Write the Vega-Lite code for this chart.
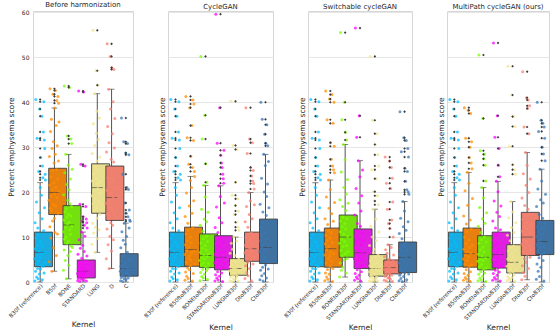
{
  "$schema": "https://vega.github.io/schema/vega-lite/v6.json",
  "padding": {"left": 6, "top": 0, "right": 0, "bottom": 0},
  "bounds": "flush",
  "spacing": 35,
  "config": {
    "font": "DejaVu Sans",
    "view": {"stroke": "#d6d6d6"},
    "axis": {"gridColor": "#e6e6e6", "labelColor": "#262626", "titleColor": "#262626", "titleFontWeight": "normal", "domain": false, "ticks": false},
    "title": {"fontSize": 7, "fontWeight": "normal", "color": "#262626", "offset": 1}
  },
  "datasets": {
    "b": [
      {"p": "bh", "k": "B30f (reference)", "c": "B30f", "lo": 0, "q1": 3.4, "med": 6.6, "q3": 11.1, "hi": 22.1, "v": [5.2, 0.2, 13.2, 7.4, 2.4, 40.6, 9.8, 4.1, 17.8, 1.1, 6.0, 32.0, 8.1, 3.0, 12.0, 0.7, 10.5, 4.7, 24.6, 6.9, 15.4, 1.8, 38.5, 5.5, 9.0, 21.0, 2.9, 27.7, 3.8, 8.6, 19.3, 6.3, 36.9, 14.1, 0.5, 25.8, 7.9, 23.2, 3.5, 33.4, 11.4, 40.1, 2.0, 31.6, 16.5, 29.7, 6.6, 24.0, 22.7, 4.4]},
      {"p": "bh", "k": "B50f", "c": "B50f", "lo": 2.4, "q1": 15.0, "med": 19.9, "q3": 25.3, "hi": 38.7, "v": [18.2, 4.5, 27.9, 21.6, 12.3, 43.0, 16.4, 33.5, 9.8, 23.4, 19.1, 36.2, 15.8, 2.4, 29.7, 20.5, 13.6, 24.8, 41.8, 17.3, 31.2, 7.6, 22.1, 26.5, 14.2, 38.7, 19.6, 11.0, 28.4, 42.6, 16.9, 21.0, 34.8, 5.9, 25.0, 40.4, 18.8, 30.3, 10.7, 22.9, 41.3, 15.3, 26.9, 39.8, 20.2, 35.6]},
      {"p": "bh", "k": "BONE", "c": "BONE", "lo": 0.7, "q1": 8.3, "med": 12.7, "q3": 17.0, "hi": 28.4, "v": [11.2, 2.6, 19.4, 13.8, 7.1, 43.6, 9.5, 24.3, 15.6, 4.8, 12.1, 28.4, 10.0, 16.3, 0.7, 21.7, 14.4, 8.6, 32.5, 12.9, 18.2, 5.9, 26.0, 9.1, 15.0, 3.7, 20.5, 13.3, 43.3, 11.6, 17.4, 6.8, 22.9, 10.6, 31.8, 14.7, 8.0, 16.8, 30.8, 12.4, 25.1, 7.7]},
      {"p": "bh", "k": "STANDARD", "c": "STANDARD", "lo": 0, "q1": 0.9, "med": 2.4, "q3": 4.9, "hi": 11.1, "v": [1.9, 0.3, 6.2, 2.8, 0.8, 42.5, 3.6, 9.4, 1.2, 4.4, 0.1, 17.3, 2.2, 7.5, 1.5, 26.2, 3.1, 0.6, 11.1, 5.3, 13.5, 2.5, 0.9, 8.2, 4.0, 14.5, 1.7, 42.3, 3.3, 0.4, 6.8, 12.6, 2.0, 10.2, 25.8, 1.0, 4.7, 16.8, 2.6, 14.0, 0.2, 13.2, 5.8, 12.0, 3.9]},
      {"p": "bh", "k": "LUNG", "c": "LUNG", "lo": 6.6, "q1": 15.3, "med": 21.0, "q3": 26.3, "hi": 41.9, "v": [19.2, 8.4, 28.6, 22.5, 13.1, 56.0, 17.4, 35.2, 24.1, 10.9, 20.3, 41.9, 15.9, 30.4, 6.6, 25.7, 18.6, 12.2, 47.0, 23.0, 33.1, 16.5, 21.8, 38.0, 14.2, 26.9, 9.7, 20.8, 43.8, 24.9, 31.7, 17.9, 11.6, 22.2, 36.5, 15.1, 27.8, 19.9]},
      {"p": "bh", "k": "D", "c": "D", "lo": 3.0, "q1": 13.7, "med": 18.8, "q3": 25.8, "hi": 42.9, "v": [17.5, 5.2, 28.9, 20.4, 11.8, 53.0, 15.1, 34.6, 23.2, 8.3, 18.1, 42.9, 14.0, 31.0, 3.0, 25.4, 16.6, 10.2, 50.2, 21.9, 38.5, 13.2, 19.6, 27.3, 6.9, 24.0, 47.7, 16.0, 33.0, 12.6, 22.7, 40.1, 18.9, 9.4, 26.7, 47.3, 14.8, 29.8, 20.9, 36.4]},
      {"p": "bh", "k": "C", "c": "C", "lo": 0, "q1": 1.3, "med": 3.0, "q3": 6.3, "hi": 13.1, "v": [2.4, 0.3, 7.6, 3.5, 1.0, 36.5, 4.8, 11.2, 1.6, 5.7, 0.1, 24.0, 2.9, 9.3, 1.3, 31.2, 3.9, 0.7, 13.1, 6.1, 17.6, 2.1, 8.4, 4.3, 28.7, 0.5, 15.3, 3.2, 10.1, 21.0, 1.9, 6.6, 30.8, 2.7, 14.5, 0.9, 20.6, 5.1, 28.3, 12.0, 16.0, 3.0, 13.8, 1.4, 13.5, 4.6]},

      {"p": "cg", "k": "B30f (reference)", "c": "B30f", "lo": 0, "q1": 3.4, "med": 6.6, "q3": 11.1, "hi": 22.1, "v": [5.2, 0.2, 13.2, 7.4, 2.4, 40.6, 9.8, 4.1, 17.8, 1.1, 6.0, 32.0, 8.1, 3.0, 12.0, 0.7, 10.5, 4.7, 24.6, 6.9, 15.4, 1.8, 38.5, 5.5, 9.0, 21.0, 2.9, 27.7, 3.8, 8.6, 19.3, 6.3, 36.9, 14.1, 0.5, 25.8, 7.9, 23.2, 3.5, 33.4, 11.4, 40.1, 2.0, 31.6, 16.5, 29.7, 6.6, 24.0, 22.7, 4.4]},
      {"p": "cg", "k": "B50ftoB30f", "c": "B50f", "lo": 0, "q1": 3.5, "med": 7.2, "q3": 12.2, "hi": 23.5, "v": [6.1, 0.4, 14.6, 8.3, 2.2, 41.3, 10.7, 4.4, 19.8, 1.3, 7.0, 32.1, 9.2, 3.1, 13.1, 0.8, 11.5, 5.3, 26.2, 7.8, 16.9, 2.7, 38.8, 5.9, 9.9, 22.6, 3.6, 28.0, 4.9, 8.8, 21.0, 6.6, 34.8, 15.3, 0.2, 25.5, 12.0, 40.5, 1.9, 31.5, 18.1, 39.6, 6.9, 24.6, 23.5, 4.0]},
      {"p": "cg", "k": "BONEtoB30f", "c": "BONE", "lo": 0.3, "q1": 3.2, "med": 5.9, "q3": 10.7, "hi": 21.5, "v": [4.8, 0.3, 12.6, 6.6, 2.1, 50.2, 8.7, 3.9, 16.2, 1.2, 5.4, 31.8, 7.5, 2.8, 11.3, 0.9, 9.6, 4.3, 21.5, 6.0, 14.0, 1.7, 37.1, 5.1, 8.1, 18.9, 3.4, 26.3, 7.1, 10.2, 2.5, 13.4, 22.2, 5.7, 0.6, 9.0, 3.0, 15.5, 6.3, 4.1]},
      {"p": "cg", "k": "STANDARDtoB30f", "c": "STANDARD", "lo": 0, "q1": 2.7, "med": 5.5, "q3": 10.3, "hi": 21.4, "v": [4.3, 0.2, 12.1, 6.2, 1.6, 59.6, 8.4, 3.5, 16.7, 0.9, 5.0, 30.9, 7.1, 2.3, 11.0, 0.5, 9.5, 3.9, 21.4, 5.8, 14.3, 1.3, 38.8, 4.7, 7.9, 19.0, 2.9, 28.2, 6.5, 9.9, 26.5, 2.0, 13.2, 25.5, 5.3, 0.1, 24.0, 8.8, 23.0, 3.2, 22.0, 29.3, 6.8, 17.6, 4.1]},
      {"p": "cg", "k": "LUNGtoB30f", "c": "LUNG", "lo": 0, "q1": 1.5, "med": 3.0, "q3": 5.2, "hi": 10.0, "v": [2.5, 0.3, 6.4, 3.4, 1.1, 40.2, 4.2, 8.6, 1.8, 3.8, 0.1, 19.3, 2.2, 7.3, 1.4, 30.4, 2.9, 0.7, 10.0, 4.8, 15.0, 2.0, 0.5, 5.9, 3.1, 17.0, 1.6, 22.2, 4.5, 0.9, 13.3, 2.7, 9.1, 29.5, 1.3, 18.5, 3.6, 12.2, 0.2, 15.8, 5.1, 11.5, 2.4]},
      {"p": "cg", "k": "DtoB30f", "c": "D", "lo": 0, "q1": 4.6, "med": 7.4, "q3": 11.1, "hi": 19.9, "v": [6.5, 0.8, 13.4, 8.2, 3.6, 38.8, 9.9, 5.3, 16.8, 2.1, 7.0, 28.6, 8.9, 4.4, 12.2, 1.4, 10.6, 5.9, 19.9, 7.7, 15.0, 3.0, 31.8, 6.2, 9.4, 18.1, 4.9, 25.5, 7.3, 11.0, 0.3, 23.6, 6.8, 14.1, 31.0, 8.5, 22.5, 4.0, 24.8, 10.2, 21.9, 5.6, 20.7, 17.2]},
      {"p": "cg", "k": "CtoB30f", "c": "C", "lo": 0, "q1": 4.1, "med": 7.7, "q3": 14.0, "hi": 28.4, "v": [6.8, 0.5, 17.3, 9.1, 2.6, 40.0, 12.0, 5.0, 23.1, 1.4, 7.7, 36.2, 10.4, 3.3, 15.6, 0.2, 13.2, 6.1, 28.4, 8.4, 20.0, 1.9, 32.9, 5.5, 11.1, 25.9, 3.8, 30.9, 7.3, 14.8, 0.9, 19.0, 35.0, 9.6, 4.5, 21.8, 30.3, 12.9, 2.9, 26.8, 8.0, 16.5]},

      {"p": "sw", "k": "B30f (reference)", "c": "B30f", "lo": 0, "q1": 3.4, "med": 6.6, "q3": 11.1, "hi": 22.1, "v": [5.2, 0.2, 13.2, 7.4, 2.4, 40.6, 9.8, 4.1, 17.8, 1.1, 6.0, 32.0, 8.1, 3.0, 12.0, 0.7, 10.5, 4.7, 24.6, 6.9, 15.4, 1.8, 38.5, 5.5, 9.0, 21.0, 2.9, 27.7, 3.8, 8.6, 19.3, 6.3, 36.9, 14.1, 0.5, 25.8, 7.9, 23.2, 3.5, 33.4, 11.4, 40.1, 2.0, 31.6, 16.5, 29.7, 6.6, 24.0, 22.7, 4.4]},
      {"p": "sw", "k": "B50ftoB30f", "c": "B50f", "lo": 0, "q1": 3.3, "med": 7.4, "q3": 12.0, "hi": 22.7, "v": [6.0, 0.3, 14.1, 8.5, 2.0, 42.5, 10.4, 4.2, 18.9, 1.1, 7.2, 36.1, 9.3, 2.8, 12.8, 0.6, 11.4, 5.1, 22.7, 7.9, 16.4, 1.7, 40.7, 5.8, 9.8, 20.6, 3.5, 31.0, 6.7, 11.0, 27.3, 4.6, 15.2, 41.7, 8.8, 0.1, 25.8, 3.0, 35.3, 13.5, 25.0, 6.3, 40.0, 30.2, 24.3, 17.7]},
      {"p": "sw", "k": "BONEtoB30f", "c": "BONE", "lo": 1.1, "q1": 5.5, "med": 10.0, "q3": 14.9, "hi": 30.6, "v": [8.6, 1.1, 18.3, 11.2, 4.2, 55.5, 13.6, 7.0, 24.5, 2.6, 9.5, 36.1, 12.3, 5.8, 16.8, 3.3, 14.4, 7.9, 30.6, 10.6, 21.0, 4.9, 40.0, 9.0, 13.0, 27.2, 6.3, 33.3, 11.8, 15.9, 2.0, 19.6, 31.6, 8.1, 14.1, 5.2, 22.8, 10.1, 6.8, 17.5]},
      {"p": "sw", "k": "STANDARDtoB30f", "c": "STANDARD", "lo": 0, "q1": 3.0, "med": 6.5, "q3": 11.8, "hi": 27.0, "v": [5.2, 0.4, 14.9, 7.6, 1.9, 56.5, 10.2, 4.0, 20.8, 1.1, 6.1, 32.2, 8.9, 2.7, 13.0, 0.7, 11.3, 4.8, 27.0, 7.0, 17.6, 1.5, 37.0, 5.7, 9.5, 23.4, 3.3, 12.4, 6.8, 0.2, 15.8, 8.3, 2.3, 19.2, 5.0, 10.8, 3.7, 24.9, 6.4, 9.1]},
      {"p": "sw", "k": "LUNGtoB30f", "c": "LUNG", "lo": 0, "q1": 1.3, "med": 3.0, "q3": 6.1, "hi": 16.2, "v": [2.3, 0.2, 8.1, 3.6, 0.9, 50.2, 4.7, 12.4, 1.5, 5.2, 0.1, 25.0, 2.7, 10.0, 1.2, 36.0, 3.3, 0.6, 16.2, 6.5, 20.1, 2.0, 0.4, 7.3, 3.9, 18.0, 1.7, 30.6, 5.6, 0.8, 14.0, 2.9, 23.0, 9.2, 1.1, 33.0, 4.3, 19.2, 0.3, 28.3, 6.0, 17.2, 2.5, 25.8, 11.1, 3.1]},
      {"p": "sw", "k": "DtoB30f", "c": "D", "lo": 0, "q1": 1.8, "med": 3.2, "q3": 4.9, "hi": 8.3, "v": [2.8, 0.4, 5.6, 3.5, 1.3, 27.8, 4.1, 7.2, 2.0, 3.9, 0.2, 22.0, 2.5, 6.4, 1.6, 16.2, 3.0, 0.9, 8.3, 4.6, 13.0, 2.2, 1.0, 5.1, 3.3, 26.9, 1.8, 11.9, 4.4, 0.6, 20.8, 2.7, 7.7, 25.5, 1.5, 13.8, 3.7, 23.1, 0.1, 17.8, 4.8, 10.0, 2.4, 6.0]},
      {"p": "sw", "k": "CtoB30f", "c": "C", "lo": 0, "q1": 2.1, "med": 5.5, "q3": 8.9, "hi": 17.9, "v": [4.3, 0.3, 10.8, 6.2, 1.5, 37.9, 7.4, 2.9, 14.2, 0.8, 5.1, 29.0, 6.9, 2.4, 9.6, 0.1, 8.2, 3.6, 17.9, 5.8, 12.3, 1.2, 32.1, 4.7, 7.9, 15.8, 2.0, 25.3, 6.0, 8.6, 22.4, 3.1, 11.5, 31.5, 5.4, 0.5, 20.5, 7.1, 24.6, 3.9, 29.7, 13.4, 20.0, 27.8, 1.8, 19.5]},

      {"p": "mp", "k": "B30f (reference)", "c": "B30f", "lo": 0, "q1": 3.4, "med": 6.6, "q3": 11.1, "hi": 22.1, "v": [5.2, 0.2, 13.2, 7.4, 2.4, 40.6, 9.8, 4.1, 17.8, 1.1, 6.0, 32.0, 8.1, 3.0, 12.0, 0.7, 10.5, 4.7, 24.6, 6.9, 15.4, 1.8, 38.5, 5.5, 9.0, 21.0, 2.9, 27.7, 3.8, 8.6, 19.3, 6.3, 36.9, 14.1, 0.5, 25.8, 7.9, 23.2, 3.5, 33.4, 11.4, 40.1, 2.0, 31.6, 16.5, 29.7, 6.6, 24.0, 22.7, 4.4]},
      {"p": "mp", "k": "B50ftoB30f", "c": "B50f", "lo": 0, "q1": 3.3, "med": 6.3, "q3": 12.0, "hi": 24.4, "v": [5.1, 0.4, 14.7, 7.3, 1.9, 38.8, 10.0, 4.0, 20.3, 1.0, 6.0, 32.0, 8.6, 2.7, 12.9, 0.6, 11.2, 4.8, 24.4, 6.8, 17.1, 1.5, 38.2, 5.6, 9.4, 22.0, 3.4, 27.7, 7.7, 0.2, 30.0, 13.8, 2.3, 37.5, 6.4, 26.5, 11.7, 31.2, 3.8, 25.2, 8.1, 18.6]},
      {"p": "mp", "k": "BONEtoB30f", "c": "BONE", "lo": 0, "q1": 2.7, "med": 5.5, "q3": 10.3, "hi": 21.0, "v": [4.6, 0.3, 12.4, 6.2, 1.7, 50.5, 8.6, 3.4, 16.6, 0.9, 5.0, 29.2, 7.2, 2.3, 11.0, 0.5, 9.4, 3.9, 21.0, 5.8, 14.1, 1.3, 36.4, 4.8, 7.8, 18.7, 2.8, 27.4, 6.7, 10.0, 28.4, 2.0, 13.1, 26.0, 5.3, 0.1, 22.5, 8.9, 3.1, 15.4]},
      {"p": "mp", "k": "STANDARDtoB30f", "c": "STANDARD", "lo": 0, "q1": 3.1, "med": 6.1, "q3": 11.1, "hi": 22.4, "v": [5.0, 0.4, 13.6, 7.0, 1.9, 53.2, 9.3, 3.8, 18.0, 1.0, 5.7, 32.2, 8.1, 2.6, 12.0, 0.6, 10.4, 4.4, 22.4, 6.5, 15.5, 1.5, 37.0, 5.3, 8.7, 20.1, 3.2, 26.0, 7.4, 10.9, 29.7, 2.2, 14.6, 23.4, 6.0, 0.2, 11.6, 4.0, 16.9, 3.5]},
      {"p": "mp", "k": "LUNGtoB30f", "c": "LUNG", "lo": 0, "q1": 2.0, "med": 4.4, "q3": 8.3, "hi": 17.9, "v": [3.5, 0.3, 10.4, 5.1, 1.2, 48.0, 6.9, 2.6, 14.3, 0.8, 4.0, 30.2, 6.0, 1.9, 9.2, 0.5, 7.7, 3.0, 17.9, 4.8, 12.1, 1.0, 41.6, 3.8, 6.4, 15.6, 2.2, 26.1, 5.5, 8.0, 36.8, 1.6, 11.0, 25.0, 4.5, 0.1, 34.6, 7.2, 24.0, 2.8, 13.2]},
      {"p": "mp", "k": "DtoB30f", "c": "D", "lo": 0.5, "q1": 5.9, "med": 10.0, "q3": 15.5, "hi": 28.8, "v": [8.4, 0.5, 18.7, 11.3, 3.6, 46.8, 13.9, 6.8, 24.1, 2.1, 9.3, 34.5, 12.4, 5.2, 17.0, 1.3, 14.8, 7.6, 28.8, 10.5, 21.5, 4.4, 41.0, 9.0, 13.2, 26.0, 6.2, 38.6, 11.9, 16.2, 40.5, 3.0, 19.9, 33.0, 8.0, 15.1, 39.2, 10.8, 5.5, 22.9, 12.8, 7.2]},
      {"p": "mp", "k": "CtoB30f", "c": "C", "lo": 0, "q1": 6.1, "med": 9.0, "q3": 13.7, "hi": 25.1, "v": [8.2, 0.6, 16.8, 10.1, 4.0, 40.0, 12.3, 6.9, 20.7, 2.4, 9.0, 33.5, 11.2, 5.4, 15.0, 1.2, 13.4, 7.6, 25.1, 9.5, 18.3, 3.3, 36.0, 8.6, 12.0, 22.5, 6.2, 30.0, 10.6, 14.2, 35.3, 4.8, 17.6, 28.5, 7.9, 0.2, 34.5, 11.7, 32.0, 6.5, 27.0, 13.1, 19.5]}
    ]
  },
  "hconcat": [
    {
      "width": 100, "height": 271,
      "title": "Before harmonization",
      "data": {"name": "b"},
      "transform": [{"filter": "datum.p == 'bh'"}],
      "encoding": {"x": {"field": "k", "type": "nominal", "sort": null, "scale": {"paddingInner": 0.2, "paddingOuter": 0.1}, "axis": {"title": "Kernel", "labelAngle": -45, "labelAlign": "right", "labelBaseline": "top", "labelFontSize": 5.5, "titleFontSize": 7.5, "grid": false, "labelPadding": 1, "titlePadding": 2}}},
      "layer": [
        {"mark": {"type": "rule", "color": "#3f3f3f", "strokeWidth": 0.9}, "encoding": {"y": {"field": "lo", "type": "quantitative", "title": "Percent emphysema score", "scale": {"domain": [0, 60.3], "nice": false}, "axis": {"title": "Percent emphysema score", "values": [0, 10, 20, 30, 40, 50, 60], "labelFontSize": 6, "titleFontSize": 7.5, "labelPadding": 4, "titlePadding": 6, "grid": true}}, "y2": {"field": "hi"}}},
        {"mark": {"type": "bar", "stroke": "#3f3f3f", "strokeWidth": 0.9}, "encoding": {"y": {"field": "q1", "type": "quantitative", "title": "Percent emphysema score"}, "y2": {"field": "q3"}, "fill": {"field": "c", "type": "nominal", "legend": null, "scale": {"domain": ["B30f", "B50f", "BONE", "STANDARD", "LUNG", "D", "C"], "range": ["#1AABE0", "#E8800F", "#74E010", "#E020E0", "#E8DF90", "#EE8070", "#3F72A0"]}}}},
        {"mark": {"type": "tick", "color": "#3f3f3f", "size": 11, "thickness": 0.9}, "encoding": {"y": {"field": "med", "type": "quantitative", "title": "Percent emphysema score"}}},
        {"mark": {"type": "tick", "color": "#3f3f3f", "size": 5.7, "thickness": 0.9}, "encoding": {"y": {"field": "lo", "type": "quantitative", "title": "Percent emphysema score"}}},
        {"mark": {"type": "tick", "color": "#3f3f3f", "size": 5.7, "thickness": 0.9}, "encoding": {"y": {"field": "hi", "type": "quantitative", "title": "Percent emphysema score"}}},
        {"transform": [{"flatten": ["v"]}, {"window": [{"op": "row_number", "as": "i"}], "groupby": ["k"]}], "mark": {"type": "circle", "size": 9, "opacity": 0.75}, "encoding": {"y": {"field": "v", "type": "quantitative", "title": "Percent emphysema score"}, "xOffset": {"field": "i", "type": "nominal", "scale": {"paddingOuter": 2}}, "color": {"field": "c", "type": "nominal", "legend": null, "scale": {"domain": ["B30f", "B50f", "BONE", "STANDARD", "LUNG", "D", "C"], "range": ["#00BFFF", "#FF8C00", "#7CFC00", "#FF00FF", "#F0E68C", "#FA8072", "#3A78B8"]}}}},
        {"transform": [{"flatten": ["v"]}, {"filter": "datum.v > datum.hi || datum.v < datum.lo"}], "mark": {"type": "point", "shape": "diamond", "filled": true, "size": 7, "color": "#3a3a3a", "opacity": 1}, "encoding": {"y": {"field": "v", "type": "quantitative", "title": "Percent emphysema score"}}}
      ]
    },
    {
      "width": 105, "height": 271,
      "title": "CycleGAN",
      "data": {"name": "b"},
      "transform": [{"filter": "datum.p == 'cg'"}],
      "encoding": {"x": {"field": "k", "type": "nominal", "sort": null, "scale": {"paddingInner": 0.2, "paddingOuter": 0.1}, "axis": {"title": "Kernel", "labelAngle": -45, "labelAlign": "right", "labelBaseline": "top", "labelFontSize": 5.5, "titleFontSize": 7.5, "grid": false, "labelPadding": 1, "titlePadding": 2}}},
      "layer": [
        {"mark": {"type": "rule", "color": "#3f3f3f", "strokeWidth": 0.9}, "encoding": {"y": {"field": "lo", "type": "quantitative", "title": "Percent emphysema score", "scale": {"domain": [0, 60.3], "nice": false}, "axis": {"title": "Percent emphysema score", "values": [0, 10, 20, 30, 40, 50, 60], "labels": false, "titleFontSize": 7.5, "titlePadding": 2, "grid": true}}, "y2": {"field": "hi"}}},
        {"mark": {"type": "bar", "stroke": "#3f3f3f", "strokeWidth": 0.9}, "encoding": {"y": {"field": "q1", "type": "quantitative", "title": "Percent emphysema score"}, "y2": {"field": "q3"}, "fill": {"field": "c", "type": "nominal", "legend": null, "scale": {"domain": ["B30f", "B50f", "BONE", "STANDARD", "LUNG", "D", "C"], "range": ["#1AABE0", "#E8800F", "#74E010", "#E020E0", "#E8DF90", "#EE8070", "#3F72A0"]}}}},
        {"mark": {"type": "tick", "color": "#3f3f3f", "size": 12, "thickness": 0.9}, "encoding": {"y": {"field": "med", "type": "quantitative", "title": "Percent emphysema score"}}},
        {"mark": {"type": "tick", "color": "#3f3f3f", "size": 6, "thickness": 0.9}, "encoding": {"y": {"field": "lo", "type": "quantitative", "title": "Percent emphysema score"}}},
        {"mark": {"type": "tick", "color": "#3f3f3f", "size": 6, "thickness": 0.9}, "encoding": {"y": {"field": "hi", "type": "quantitative", "title": "Percent emphysema score"}}},
        {"transform": [{"flatten": ["v"]}, {"window": [{"op": "row_number", "as": "i"}], "groupby": ["k"]}], "mark": {"type": "circle", "size": 9, "opacity": 0.75}, "encoding": {"y": {"field": "v", "type": "quantitative", "title": "Percent emphysema score"}, "xOffset": {"field": "i", "type": "nominal", "scale": {"paddingOuter": 2}}, "color": {"field": "c", "type": "nominal", "legend": null, "scale": {"domain": ["B30f", "B50f", "BONE", "STANDARD", "LUNG", "D", "C"], "range": ["#00BFFF", "#FF8C00", "#7CFC00", "#FF00FF", "#F0E68C", "#FA8072", "#3A78B8"]}}}},
        {"transform": [{"flatten": ["v"]}, {"filter": "datum.v > datum.hi || datum.v < datum.lo"}], "mark": {"type": "point", "shape": "diamond", "filled": true, "size": 7, "color": "#3a3a3a", "opacity": 1}, "encoding": {"y": {"field": "v", "type": "quantitative", "title": "Percent emphysema score"}}}
      ]
    },
    {
      "width": 104, "height": 271,
      "title": "Switchable cycleGAN",
      "data": {"name": "b"},
      "transform": [{"filter": "datum.p == 'sw'"}],
      "encoding": {"x": {"field": "k", "type": "nominal", "sort": null, "scale": {"paddingInner": 0.2, "paddingOuter": 0.1}, "axis": {"title": "Kernel", "labelAngle": -45, "labelAlign": "right", "labelBaseline": "top", "labelFontSize": 5.5, "titleFontSize": 7.5, "grid": false, "labelPadding": 1, "titlePadding": 2}}},
      "layer": [
        {"mark": {"type": "rule", "color": "#3f3f3f", "strokeWidth": 0.9}, "encoding": {"y": {"field": "lo", "type": "quantitative", "title": "Percent emphysema score", "scale": {"domain": [0, 60.3], "nice": false}, "axis": {"title": "Percent emphysema score", "values": [0, 10, 20, 30, 40, 50, 60], "labels": false, "titleFontSize": 7.5, "titlePadding": 2, "grid": true}}, "y2": {"field": "hi"}}},
        {"mark": {"type": "bar", "stroke": "#3f3f3f", "strokeWidth": 0.9}, "encoding": {"y": {"field": "q1", "type": "quantitative", "title": "Percent emphysema score"}, "y2": {"field": "q3"}, "fill": {"field": "c", "type": "nominal", "legend": null, "scale": {"domain": ["B30f", "B50f", "BONE", "STANDARD", "LUNG", "D", "C"], "range": ["#1AABE0", "#E8800F", "#74E010", "#E020E0", "#E8DF90", "#EE8070", "#3F72A0"]}}}},
        {"mark": {"type": "tick", "color": "#3f3f3f", "size": 12, "thickness": 0.9}, "encoding": {"y": {"field": "med", "type": "quantitative", "title": "Percent emphysema score"}}},
        {"mark": {"type": "tick", "color": "#3f3f3f", "size": 6, "thickness": 0.9}, "encoding": {"y": {"field": "lo", "type": "quantitative", "title": "Percent emphysema score"}}},
        {"mark": {"type": "tick", "color": "#3f3f3f", "size": 6, "thickness": 0.9}, "encoding": {"y": {"field": "hi", "type": "quantitative", "title": "Percent emphysema score"}}},
        {"transform": [{"flatten": ["v"]}, {"window": [{"op": "row_number", "as": "i"}], "groupby": ["k"]}], "mark": {"type": "circle", "size": 9, "opacity": 0.75}, "encoding": {"y": {"field": "v", "type": "quantitative", "title": "Percent emphysema score"}, "xOffset": {"field": "i", "type": "nominal", "scale": {"paddingOuter": 2}}, "color": {"field": "c", "type": "nominal", "legend": null, "scale": {"domain": ["B30f", "B50f", "BONE", "STANDARD", "LUNG", "D", "C"], "range": ["#00BFFF", "#FF8C00", "#7CFC00", "#FF00FF", "#F0E68C", "#FA8072", "#3A78B8"]}}}},
        {"transform": [{"flatten": ["v"]}, {"filter": "datum.v > datum.hi || datum.v < datum.lo"}], "mark": {"type": "point", "shape": "diamond", "filled": true, "size": 7, "color": "#3a3a3a", "opacity": 1}, "encoding": {"y": {"field": "v", "type": "quantitative", "title": "Percent emphysema score"}}}
      ]
    },
    {
      "width": 102, "height": 271,
      "title": "MultiPath cycleGAN (ours)",
      "data": {"name": "b"},
      "transform": [{"filter": "datum.p == 'mp'"}],
      "encoding": {"x": {"field": "k", "type": "nominal", "sort": null, "scale": {"paddingInner": 0.2, "paddingOuter": 0.1}, "axis": {"title": "Kernel", "labelAngle": -45, "labelAlign": "right", "labelBaseline": "top", "labelFontSize": 5.5, "titleFontSize": 7.5, "grid": false, "labelPadding": 1, "titlePadding": 2}}},
      "layer": [
        {"mark": {"type": "rule", "color": "#3f3f3f", "strokeWidth": 0.9}, "encoding": {"y": {"field": "lo", "type": "quantitative", "title": "Percent emphysema score", "scale": {"domain": [0, 60.3], "nice": false}, "axis": {"title": "Percent emphysema score", "values": [0, 10, 20, 30, 40, 50, 60], "labels": false, "titleFontSize": 7.5, "titlePadding": 2, "grid": true}}, "y2": {"field": "hi"}}},
        {"mark": {"type": "bar", "stroke": "#3f3f3f", "strokeWidth": 0.9}, "encoding": {"y": {"field": "q1", "type": "quantitative", "title": "Percent emphysema score"}, "y2": {"field": "q3"}, "fill": {"field": "c", "type": "nominal", "legend": null, "scale": {"domain": ["B30f", "B50f", "BONE", "STANDARD", "LUNG", "D", "C"], "range": ["#1AABE0", "#E8800F", "#74E010", "#E020E0", "#E8DF90", "#EE8070", "#3F72A0"]}}}},
        {"mark": {"type": "tick", "color": "#3f3f3f", "size": 11.5, "thickness": 0.9}, "encoding": {"y": {"field": "med", "type": "quantitative", "title": "Percent emphysema score"}}},
        {"mark": {"type": "tick", "color": "#3f3f3f", "size": 5.8, "thickness": 0.9}, "encoding": {"y": {"field": "lo", "type": "quantitative", "title": "Percent emphysema score"}}},
        {"mark": {"type": "tick", "color": "#3f3f3f", "size": 5.8, "thickness": 0.9}, "encoding": {"y": {"field": "hi", "type": "quantitative", "title": "Percent emphysema score"}}},
        {"transform": [{"flatten": ["v"]}, {"window": [{"op": "row_number", "as": "i"}], "groupby": ["k"]}], "mark": {"type": "circle", "size": 9, "opacity": 0.75}, "encoding": {"y": {"field": "v", "type": "quantitative", "title": "Percent emphysema score"}, "xOffset": {"field": "i", "type": "nominal", "scale": {"paddingOuter": 2}}, "color": {"field": "c", "type": "nominal", "legend": null, "scale": {"domain": ["B30f", "B50f", "BONE", "STANDARD", "LUNG", "D", "C"], "range": ["#00BFFF", "#FF8C00", "#7CFC00", "#FF00FF", "#F0E68C", "#FA8072", "#3A78B8"]}}}},
        {"transform": [{"flatten": ["v"]}, {"filter": "datum.v > datum.hi || datum.v < datum.lo"}], "mark": {"type": "point", "shape": "diamond", "filled": true, "size": 7, "color": "#3a3a3a", "opacity": 1}, "encoding": {"y": {"field": "v", "type": "quantitative", "title": "Percent emphysema score"}}}
      ]
    }
  ]
}
